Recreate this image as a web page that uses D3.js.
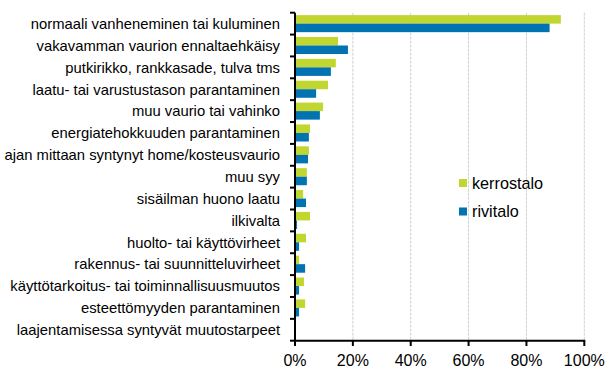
<!DOCTYPE html>
<html><head><meta charset="utf-8">
<script src="https://cdn.jsdelivr.net/npm/d3@7"></script>
<style>body{margin:0;background:#fff;}svg{display:block;font-family:"Liberation Sans",Arial,sans-serif;}</style>
</head><body><svg id="c" width="616" height="391"></svg>
<script>
const categories = [
  "normaali vanheneminen tai kuluminen",
  "vakavamman vaurion ennaltaehkäisy",
  "putkirikko, rankkasade, tulva tms",
  "laatu- tai varustustason parantaminen",
  "muu vaurio tai vahinko",
  "energiatehokkuuden parantaminen",
  "ajan mittaan syntynyt home/kosteusvaurio",
  "muu syy",
  "sisäilman huono laatu",
  "ilkivalta",
  "huolto- tai käyttövirheet",
  "rakennus- tai suunnitteluvirheet",
  "käyttötarkoitus- tai toiminnallisuusmuutos",
  "esteettömyyden parantaminen",
  "laajentamisessa syntyvät muutostarpeet"
];
const kerrostalo = [91.9, 14.9, 14.1, 11.4, 9.7, 5.2, 4.8, 4.1, 2.8, 5.2, 3.8, 1.4, 3.1, 3.5, 0];
const rivitalo   = [88.0, 18.3, 12.4, 7.3, 8.6, 4.8, 4.5, 4.1, 3.8, 0.7, 1.4, 3.5, 1.4, 1.4, 0];
const seriesNames = ["kerrostalo", "rivitalo"];
const colors = ["#c1d72f", "#0073b0"];
const xTicks = [0, 20, 40, 60, 80, 100];

const svg = d3.select("#c");
const x = d3.scaleLinear().domain([0, 100]).range([295, 584.3]);
const y = d3.scaleBand().domain(categories).range([12.7, 340.7]).paddingInner(0.22).paddingOuter(0.11);
const inner = d3.scaleBand().domain(seriesNames).range([0, y.bandwidth()]);

// gridlines
svg.append("g").selectAll("line").data(xTicks.slice(1)).join("line")
  .attr("x1", d => x(d)).attr("x2", d => x(d))
  .attr("y1", 12.7).attr("y2", 340.7)
  .attr("stroke", "#d0d0d0").attr("stroke-width", 1).attr("stroke-dasharray", "3,1");

const data = [kerrostalo, rivitalo];
seriesNames.forEach((s, i) => {
  svg.append("g").selectAll("rect").data(categories).join("rect")
    .attr("x", x(0))
    .attr("y", c => y(c) + inner(s))
    .attr("width", (c, j) => x(data[i][j]) - x(0))
    .attr("height", inner.bandwidth())
    .attr("fill", colors[i]);
});

// y axis
const yb = d3.scaleLinear().domain([0, categories.length]).range([12.7, 340.7]);
const ya = svg.append("g");
ya.append("line").attr("x1", 295).attr("x2", 295).attr("y1", 12.7).attr("y2", 341.7).attr("stroke", "#000").attr("stroke-width", 2);
ya.selectAll("line.t").data(d3.range(categories.length + 1)).join("line").attr("class", "t")
  .attr("x1", 290).attr("x2", 295).attr("y1", d => yb(d)).attr("y2", d => yb(d))
  .attr("stroke", "#000").attr("stroke-width", 2);
ya.selectAll("text").data(categories).join("text")
  .attr("x", 280).attr("y", c => y(c) + y.bandwidth() / 2).attr("dy", "0.36em")
  .attr("text-anchor", "end").attr("font-size", 14.8).attr("fill", "#000").text(d => d);

// x axis
const xa = svg.append("g");
xa.append("line").attr("x1", 294).attr("x2", 585.3).attr("y1", 340.7).attr("y2", 340.7).attr("stroke", "#000").attr("stroke-width", 2);
xa.selectAll("line.t").data(xTicks).join("line").attr("class", "t")
  .attr("x1", d => x(d)).attr("x2", d => x(d)).attr("y1", 340.7).attr("y2", 346)
  .attr("stroke", "#000").attr("stroke-width", 2);
xa.selectAll("text").data(xTicks).join("text")
  .attr("x", d => x(d)).attr("y", 365.5).attr("text-anchor", "middle")
  .attr("font-size", 16).attr("fill", "#000").text(d => d + "%");

// legend
const lg = svg.append("g");
seriesNames.forEach((s, i) => {
  lg.append("rect").attr("x", 459).attr("y", 179 + i * 28.5).attr("width", 8).attr("height", 8).attr("fill", colors[i]);
  lg.append("text").attr("x", 472).attr("y", 188.5 + i * 28.5).attr("font-size", 16.2).attr("fill", "#000").text(s);
});
</script></body></html>
